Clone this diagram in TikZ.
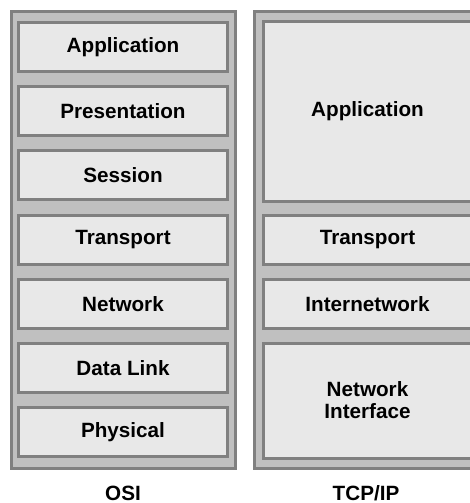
\documentclass[tikz,border=0pt]{standalone}
\usepackage{fontspec}
\setsansfont{Liberation Sans}
\usepackage{tikz}
\usetikzlibrary{positioning}
\definecolor{panelgray}{HTML}{C0C0C0}
\definecolor{edgegray}{HTML}{808080}
\definecolor{boxgray}{HTML}{E8E8E8}
\tikzstyle{panel} = [draw=edgegray,fill=panelgray,line width=2.25pt,inner sep=0pt]
\tikzstyle{layer} = [draw=edgegray,fill=boxgray,line width=2.25pt,inner sep=0pt,minimum width=156.75pt,minimum height=36.75pt,align=center,font=\sffamily\bfseries\fontsize{15.5}{16.5}\selectfont]
\tikzstyle{caption} = [font=\sffamily\bfseries\fontsize{15.5}{16.5}\selectfont]

\begin{document}
\begin{tikzpicture}[x=0.75pt,y=-0.75pt]
    \useasboundingbox (0,0) rectangle (470,503);
    \clip (0,0) rectangle (470,503);
    \fill [white] (0,0) rectangle (470,503);
    % the two frames
    \draw [panel] (11.5,11.5) rectangle (235.5,468.5);
    \draw [panel] (254.5,11.5) rectangle (478.5,468.5);
    % OSI layers
    \node [layer] (app) at (123,47) {Application};
    \node [layer] (pres) at (123,111.2) {Presentation};
    \node [layer] (sess) at (123,175.4) {Session};
    \node [layer] (trans) at (123,239.6) {Transport};
    \node [layer] (net) at (123,303.8) {Network};
    \node [layer] (link) at (123,368) {Data Link};
    \node [layer] (phys) at (123,432.2) {Physical};
    % TCP/IP layers
    \node [layer,minimum height=134.25pt] (tapp) at (367.5,111.5) {Application};
    \node [layer] (ttrans) at (367.5,239.6) {Transport};
    \node [layer] (tinet) at (367.5,303.8) {Internetwork};
    \node [layer,minimum height=86.25pt] (tnif) at (367.5,400.5) {Network\\Interface};
    \node [caption] (osi) at (123,493) {OSI};
    \node [caption] (tcpip) at (366,493) {TCP/IP};
\end{tikzpicture}
\end{document}
